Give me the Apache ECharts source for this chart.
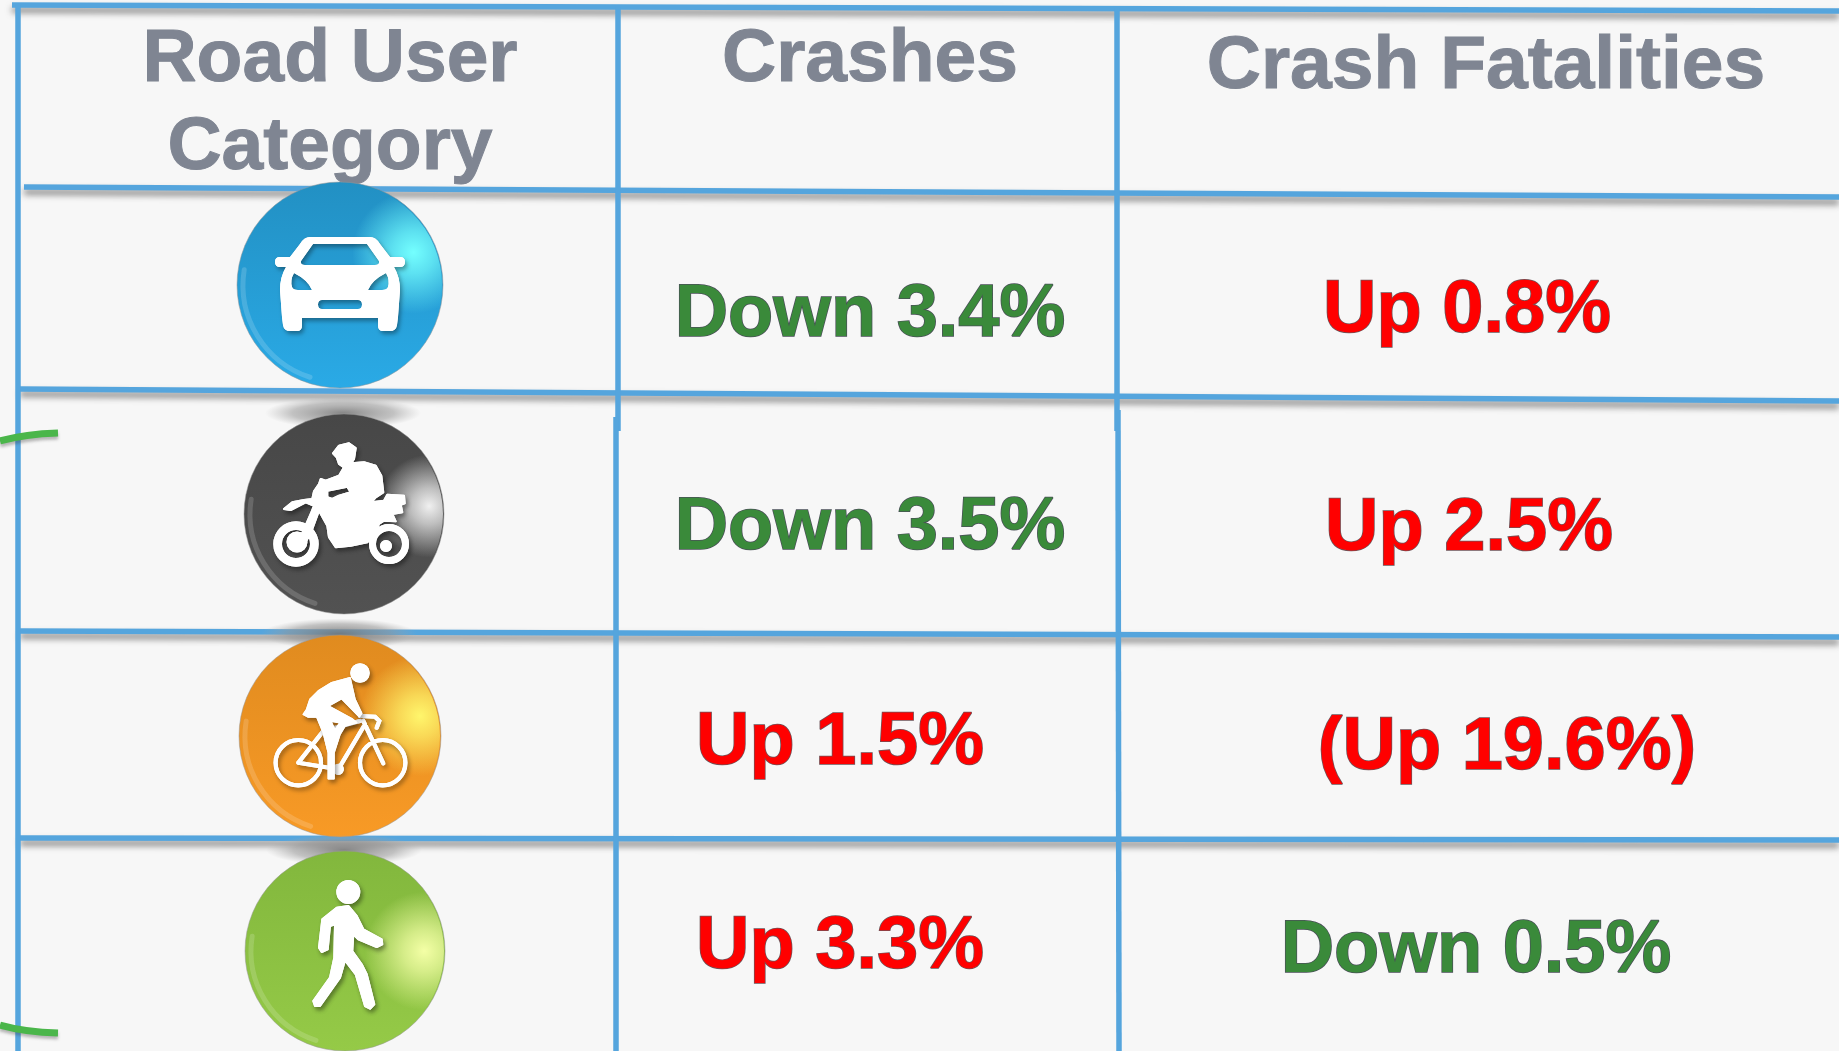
<!DOCTYPE html>
<html>
<head>
<meta charset="utf-8">
<title>Road user crash changes</title>
<script src="https://cdn.jsdelivr.net/npm/echarts@6/dist/echarts.min.js"></script>
<style>
html,body{margin:0;padding:0;background:#f7f7f7;}
#chart{width:1839px;height:1051px;}
</style>
</head>
<body>
<div id="chart"></div>
<script>
// table content
var columnHeaders = ['Road User\nCategory', 'Crashes', 'Crash Fatalities'];
var roadUsers = ['Car', 'Motorcycle', 'Bicycle', 'Pedestrian'];
var crashChange = [-3.4, -3.5, 1.5, 3.3];
var fatalityChange = [0.8, 2.5, 19.6, -0.5];
var fatalityBracketed = [false, false, true, false];

// page geometry, in the pixel units of the two hidden axes
var WIDTH = 1839, HEIGHT = 1051;
var TEXT_TOP = 58; // distance from the top of a text box to its baseline
var headerPos = [[330, 81], [870, 81], [1486, 88]];
var crashPos = [[870, 337], [870, 550], [840, 765], [840, 969]];
var fatalityPos = [[1467, 333], [1469, 551], [1507, 770], [1476, 973]];
var badgePos = [[340, 285], [344, 514], [340, 736], [345, 951]];
var badgeRadius = [103, 100, 101, 100];
var hLines = [
    [12, 5, 1839, 11], [24, 187, 1839, 197], [20, 389, 1839, 401],
    [20, 631, 1839, 637], [20, 838, 1839, 840]
];
var vLines = [
    [18, 5, 18, 1051], [618, 7, 618, 431], [616, 417, 616, 1051],
    [1117, 8, 1117, 431], [1118, 410, 1119, 1051]
];
var marks = ['M0 441 Q25 434 58 433', 'M0 1025 Q25 1032 58 1033'];

var LINE_COLOR = '#55a5dd';
var UP_COLOR = '#ff0000', DOWN_COLOR = '#3a8a3a';
var FONT = 'bold 74px "Liberation Sans", Arial, sans-serif';
var HEADER_FONT = 'bold 75px "Liberation Sans", Arial, sans-serif';

function ring(cx, cy, R, r) {
    var s = 'M' + (cx - R) + ' ' + cy + 'A' + R + ' ' + R + ' 0 1 1 ' + (cx + R) + ' ' + cy +
        'A' + R + ' ' + R + ' 0 1 1 ' + (cx - R) + ' ' + cy + 'Z';
    if (r) {
        s += 'M' + (cx - r) + ' ' + cy + 'A' + r + ' ' + r + ' 0 1 0 ' + (cx + r) + ' ' + cy +
            'A' + r + ' ' + r + ' 0 1 0 ' + (cx - r) + ' ' + cy + 'Z';
    }
    return s;
}

// outlines were traced on a 480 wide crop around the badge centre
function traced(pts, open) {
    var s = pts.map(function (p, i) {
        return (i ? 'L' : 'M') + ((p[0] - 240) / 3).toFixed(1) + ' ' + ((p[1] - 240) / 3).toFixed(1);
    }).join('');
    return open ? s : s + 'Z';
}

// badge looks and the white pictograms, relative to the badge centre
var badgeStyles = [
    {top: '#2290c3', bottom: '#2aaae6', glow: '#74ffff', gx: 0.86, gy: 0.34, gr: 0.3, shadow: false},
    {top: '#474747', bottom: '#525252', glow: '#f0f0f0', gx: 0.93, gy: 0.46, gr: 0.26, shadow: true},
    {top: '#e08b1f', bottom: '#f89a26', glow: '#fff66c', gx: 0.9, gy: 0.4, gr: 0.3, shadow: true},
    {top: '#82b73d', bottom: '#95ca47', glow: '#f4ffa6', gx: 0.9, gy: 0.5, gr: 0.3, shadow: true}
];
var icons = [
    {
        fill: 'M-30 -48L30 -48Q36 -48 40 -41L50 -28L60 -28Q65 -28 65 -23Q65 -18 60 -18L54 -18Q60 -8 60 5L58 32L57 40Q56 46 50 46L43 46Q38 46 38 40L38 33L-38 33L-38 40Q-38 46 -43 46L-50 46Q-56 46 -57 40L-58 32L-60 5Q-60 -8 -54 -18L-60 -18Q-65 -18 -65 -23Q-65 -28 -60 -28L-50 -28L-40 -41Q-36 -48 -30 -48Z' +
            'M-27 -41L-39 -24Q-40 -20 -35 -20L35 -20Q40 -20 39 -24L27 -41Z' +
            'M-46 -12Q-50 -5 -48 2Q-47 5 -42 5L-28 5Q-32 -5 -46 -12Z' +
            'M46 -12Q32 -5 28 5L42 5Q47 5 48 2Q50 -5 46 -12Z' +
            'M-18 15Q-22 15 -22 19.5Q-22 24 -18 24L18 24Q22 24 22 19.5Q22 15 18 15Z',
        soft: 0
    },
    {
        fill: traced([[207, 58], [225, 35], [255, 28], [275, 42], [270, 75], [262, 88], [300, 85], [335, 95], [352, 125], [358, 175], [335, 190], [322, 205], [360, 200], [370, 182], [420, 185], [422, 208], [410, 212], [415, 235], [385, 240], [395, 262], [360, 260], [345, 270], [330, 300], [310, 325], [260, 335], [215, 340], [195, 310], [190, 275], [165, 230], [145, 285], [125, 325], [105, 320], [140, 240], [150, 215], [125, 205], [80, 228], [60, 225], [85, 205], [120, 198], [145, 195], [150, 172], [165, 150], [170, 135], [185, 140], [225, 125], [240, 100], [225, 90], [218, 70]]) +
            traced([[190, 170], [190, 190], [205, 195], [225, 185], [260, 175], [250, 158]]) +
            ring(-48, 30, 21.7, 15) + ring(-47, 28, 9.5) + ring(45, 30, 19, 14) + ring(42, 32, 5),
        soft: 2
    },
    {
        fill: ring(20, -63, 9) + traced([[270, 65], [285, 130], [305, 172], [298, 182], [245, 128], [205, 150], [275, 188], [290, 200], [255, 210], [240, 235], [222, 290], [222, 368], [205, 368], [205, 290], [190, 230], [170, 182], [145, 183], [130, 175], [140, 160], [150, 130], [175, 105], [215, 80]]) +
            traced([[212, 195], [225, 222], [240, 200]]),
        line: ring(-41.7, 26.7, 22.7) + ring(42.7, 26.7, 22.7) + ring(-1.7, 33.3, 3.5) +
            traced([[115, 320], [235, 340], [315, 205]], true) +
            traced([[115, 320], [190, 225]], true) +
            traced([[190, 225], [300, 195]], true) +
            traced([[310, 195], [370, 322]], true) +
            traced([[300, 180], [345, 182], [358, 195], [350, 215]], true),
        lineWidth: 4.2,
        soft: 1.5
    },
    {
        fill: ring(3.3, -59, 11) + traced([[215, 110], [250, 105], [275, 135], [295, 175], [350, 205], [352, 220], [335, 228], [280, 205], [265, 190], [262, 240], [290, 280], [305, 310], [328, 400], [315, 413], [300, 405], [272, 310], [240, 268], [225, 320], [165, 405], [150, 405], [145, 390], [195, 320], [208, 260], [210, 160], [195, 165], [188, 235], [170, 243], [162, 230], [172, 145]]),
        soft: 2
    }
];

function formatChange(v, bracket) {
    var s = (v < 0 ? 'Down ' : 'Up ') + Math.abs(v).toFixed(1) + '%';
    return bracket ? '(' + s + ')' : s;
}

function bodyText(pos, value, bracket, api) {
    var p = api.coord(pos);
    return {
        type: 'text', x: p[0], y: p[1] - TEXT_TOP,
        style: {
            text: formatChange(value, bracket), font: FONT,
            fill: value < 0 ? DOWN_COLOR : UP_COLOR,
            stroke: value < 0 ? '#4a5058' : '#6e5358', lineWidth: 1.5,
            align: 'center', verticalAlign: 'top'
        }
    };
}

// a path twice: once with its shadow, then clean on top so the shadow stays outside
function shadowedPath(pathData, style) {
    var shadow = {shadowColor: 'rgba(0,0,0,0.35)', shadowBlur: 4, shadowOffsetX: 2, shadowOffsetY: 3};
    return [
        {type: 'path', shape: {pathData: pathData, layout: 'none'}, style: echarts.util.extend(shadow, style)},
        {type: 'path', shape: {pathData: pathData, layout: 'none'}, style: style}
    ];
}

var gridLineData = hLines.concat(vLines);
var rowData = roadUsers.map(function (name, i) { return [i, crashChange[i], fatalityChange[i]]; });

var option = {
    animation: false,
    backgroundColor: '#f7f7f7',
    grid: {left: 0, right: 0, top: 0, bottom: 0},
    xAxis: {type: 'value', min: 0, max: WIDTH, show: false},
    yAxis: {type: 'value', min: 0, max: HEIGHT, inverse: true, show: false},
    series: [
        {
            // table rules, the horizontal ones with the soft drop shadow of the slide
            type: 'custom', coordinateSystem: 'cartesian2d', silent: true, z: 1,
            data: gridLineData,
            encode: {x: [0, 2], y: [1, 3]},
            renderItem: function (params, api) {
                var a = api.coord([api.value(0), api.value(1)]);
                var b = api.coord([api.value(2), api.value(3)]);
                var flat = params.dataIndex < hLines.length;
                return {
                    type: 'line',
                    shape: {x1: a[0], y1: a[1], x2: b[0], y2: b[1]},
                    style: {
                        stroke: LINE_COLOR, lineWidth: 5.5, lineCap: 'butt',
                        shadowColor: flat ? 'rgba(60,60,60,0.6)' : 'transparent',
                        shadowBlur: flat ? 6 : 0, shadowOffsetY: flat ? 5 : 0
                    }
                };
            }
        },
        {
            // the two green bracket ends on the left edge
            type: 'custom', coordinateSystem: 'cartesian2d', silent: true, z: 2,
            data: marks.map(function (m, i) { return [i]; }),
            encode: {x: 0},
            renderItem: function (params, api) {
                var o = api.coord([0, 0]);
                return {
                    type: 'path', x: o[0], y: o[1],
                    shape: {pathData: marks[params.dataIndex], layout: 'none'},
                    style: {
                        fill: null, stroke: '#4ab64a', lineWidth: 7,
                        shadowColor: 'rgba(60,60,60,0.35)', shadowBlur: 3, shadowOffsetY: 3
                    }
                };
            }
        },
        {
            // column headers
            type: 'custom', coordinateSystem: 'cartesian2d', silent: true, z: 3,
            data: columnHeaders.map(function (h, i) { return [i]; }),
            encode: {x: 0},
            renderItem: function (params, api) {
                var p = api.coord(headerPos[params.dataIndex]);
                var lines = columnHeaders[params.dataIndex].split('\n');
                return {
                    type: 'group',
                    children: lines.map(function (t, k) {
                        return {
                            type: 'text', x: p[0], y: p[1] - TEXT_TOP + k * 88,
                            style: {
                                text: t, font: HEADER_FONT, fill: '#7f8592',
                                stroke: '#7f8592', lineWidth: 1,
                                align: 'center', verticalAlign: 'top'
                            }
                        };
                    })
                };
            }
        },
        {
            // percentage cells
            type: 'custom', coordinateSystem: 'cartesian2d', silent: true, z: 3,
            data: rowData,
            encode: {x: 0, y: 1},
            renderItem: function (params, api) {
                var i = params.dataIndex;
                return {
                    type: 'group',
                    children: [
                        bodyText(crashPos[i], crashChange[i], false, api),
                        bodyText(fatalityPos[i], fatalityChange[i], fatalityBracketed[i], api)
                    ]
                };
            }
        },
        {
            // round badges with the road user pictograms
            type: 'custom', coordinateSystem: 'cartesian2d', silent: true, z: 4,
            data: rowData,
            encode: {x: 0},
            renderItem: function (params, api) {
                var i = params.dataIndex;
                var p = api.coord(badgePos[i]);
                var r = badgeRadius[i];
                var st = badgeStyles[i];
                var icon = icons[i];
                var kids = [];
                if (st.shadow) {
                    // soft cast shadow peeking out above the badge
                    kids.push({
                        type: 'circle', x: -1, y: -r - 1, scaleY: 0.2,
                        shape: {cx: 0, cy: 0, r: 78},
                        style: {
                            fill: new echarts.graphic.RadialGradient(0.5, 0.5, 0.5, [
                                {offset: 0, color: 'rgba(115,115,115,0.85)'},
                                {offset: 0.65, color: 'rgba(150,150,150,0.55)'},
                                {offset: 1, color: 'rgba(170,170,170,0)'}
                            ])
                        }
                    });
                }
                kids.push({
                    type: 'circle', shape: {cx: 0, cy: 0, r: r},
                    style: {
                        fill: new echarts.graphic.LinearGradient(0, 0, 0, 1, [
                            {offset: 0, color: st.top}, {offset: 1, color: st.bottom}
                        ]),
                        stroke: 'rgba(150,150,150,0.5)', lineWidth: 1
                    }
                });
                kids.push({
                    type: 'circle', shape: {cx: 0, cy: 0, r: r - 1},
                    style: {
                        fill: new echarts.graphic.RadialGradient(st.gx, st.gy, st.gr, [
                            {offset: 0, color: st.glow},
                            {offset: 0.35, color: echarts.color.modifyAlpha(st.glow, 0.7)},
                            {offset: 1, color: echarts.color.modifyAlpha(st.glow, 0)}
                        ])
                    }
                });
                // glossy rim on the lower left
                kids.push({
                    type: 'arc', shape: {cx: 0, cy: 0, r: r - 6, startAngle: Math.PI * 0.6, endAngle: Math.PI * 1.05},
                    style: {fill: null, stroke: 'rgba(255,255,255,0.16)', lineWidth: 5, lineCap: 'round'}
                });
                if (icon.line) {
                    kids = kids.concat(shadowedPath(icon.line, {fill: null, stroke: '#fff', lineWidth: icon.lineWidth, lineCap: 'round'}));
                }
                kids = kids.concat(shadowedPath(icon.fill, {fill: '#fff', stroke: '#fff', lineWidth: icon.soft, lineJoin: 'round'}));
                return {type: 'group', x: p[0], y: p[1], children: kids};
            }
        }
    ]
};

var chart = echarts.init(document.getElementById('chart'), null, {renderer: 'canvas'});
chart.setOption(option);
</script>
</body>
</html>
